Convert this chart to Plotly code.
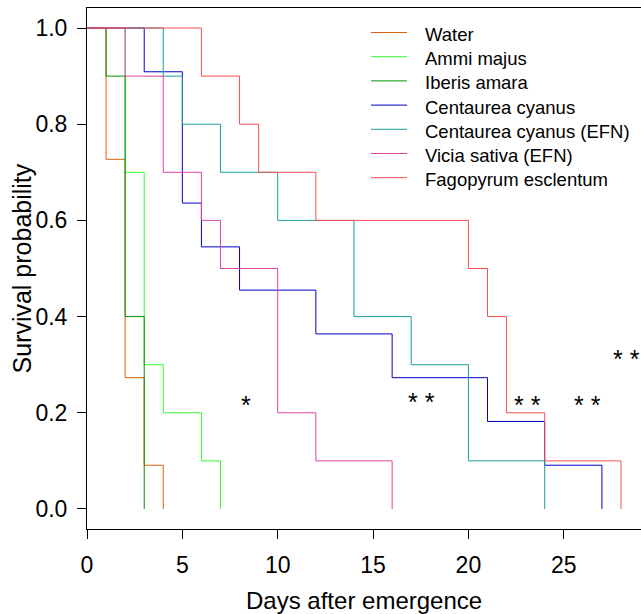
import plotly.graph_objects as go

# ---- data (Kaplan-Meier step curves) ----
groups = ["Water", "Ammi majus", "Iberis amara", "Centaurea cyanus",
          "Centaurea cyanus (EFN)", "Vicia sativa (EFN)", "Fagopyrum esclentum"]
colors = ["#E0600F", "#33FF33", "#009000", "#0000C8",
          "#1E9E9E", "#E0409F", "#FF4D4D"]

water_t = [0, 1, 2, 3, 4]
water_s = [1.0, 0.727, 0.273, 0.091, 0.0]
ammi_t = [0, 2, 3, 4, 6, 7]
ammi_s = [1.0, 0.7, 0.3, 0.2, 0.1, 0.0]
iberis_t = [0, 1, 2, 3]
iberis_s = [1.0, 0.9, 0.4, 0.0]
cyanus_t = [0, 3, 5, 6, 8, 12, 16, 21, 24, 27]
cyanus_s = [1.0, 0.909, 0.636, 0.545, 0.455, 0.364, 0.273, 0.182, 0.091, 0.0]
cyanus_efn_t = [0, 4, 5, 7, 10, 14, 17, 20, 24]
cyanus_efn_s = [1.0, 0.9, 0.8, 0.7, 0.6, 0.4, 0.3, 0.1, 0.0]
vicia_t = [0, 2, 4, 6, 7, 10, 12, 16]
vicia_s = [1.0, 0.9, 0.7, 0.6, 0.5, 0.2, 0.1, 0.0]
fago_t = [0, 6, 8, 9, 12, 20, 21, 22, 24, 28]
fago_s = [1.0, 0.9, 0.8, 0.7, 0.6, 0.5, 0.4, 0.2, 0.1, 0.0]

times = [water_t, ammi_t, iberis_t, cyanus_t, cyanus_efn_t, vicia_t, fago_t]
survs = [water_s, ammi_s, iberis_s, cyanus_s, cyanus_efn_s, vicia_s, fago_s]

# significance marks
star_x = [8.36, 17.53, 23.12, 26.27, 28.3]
star_y = [0.217, 0.222, 0.217, 0.217, 0.312]
star_text = ["*", "* *", "* *", "* *", "* *"]

xticks = [0, 5, 10, 15, 20, 25]
yticks = [0.0, 0.2, 0.4, 0.6, 0.8, 1.0]

FONT = "Arial, 'Liberation Sans', sans-serif"

# layout geometry (pixels)
W, H = 641, 614
ML, MR, MT, MB = 87, 0, 8, 85
PW, PH = W - ML - MR, H - MT - MB


def px_x(p):
    return (p - ML) / PW


def px_y(p):
    return (H - MB - p) / PH


fig = go.Figure()
for name, col, t, s in zip(groups, colors, times, survs):
    fig.add_trace(go.Scatter(x=t, y=s, mode="lines", name=name,
                             line=dict(color=col, width=1, shape="hv")))

for sx, sy, st in zip(star_x, star_y, star_text):
    fig.add_annotation(x=sx, y=sy, text=st, showarrow=False,
                       font=dict(size=25, color="black", family=FONT),
                       xanchor="center", yanchor="middle")

# legend drawn as keys + labels
leg_y0, leg_dy = 32.5, 24.2
for i, (name, col) in enumerate(zip(groups, colors)):
    yy = leg_y0 + i * leg_dy
    fig.add_shape(type="line", xref="paper", yref="paper",
                  x0=px_x(371), x1=px_x(407), y0=px_y(yy), y1=px_y(yy),
                  line=dict(color=col, width=1))
    fig.add_annotation(xref="paper", yref="paper", x=px_x(423), y=px_y(yy + 2),
                       text=name, showarrow=False, xanchor="left", yanchor="middle",
                       font=dict(size=18.5, color="black", family=FONT))

# axis titles
fig.add_annotation(xref="paper", yref="paper", x=0.5, y=0, yshift=-71,
                   text="Days after emergence", showarrow=False,
                   font=dict(size=24, color="black", family=FONT),
                   xanchor="center", yanchor="middle")
fig.add_annotation(xref="paper", yref="paper", x=0, y=0.5, xshift=-66,
                   text="Survival probability", showarrow=False, textangle=-90,
                   font=dict(size=25, color="black", family=FONT),
                   xanchor="center", yanchor="middle")

fig.update_layout(
    width=W, height=H,
    margin=dict(l=ML, r=MR, t=MT, b=MB),
    paper_bgcolor="white", plot_bgcolor="white",
    font=dict(family=FONT, color="black"),
    showlegend=False,
    xaxis=dict(range=[0, 29.05], tickvals=xticks, ticks="outside", ticklen=9,
               tickcolor="black", showline=True, linecolor="black", linewidth=1,
               mirror=True, showgrid=False, zeroline=False,
               tickfont=dict(size=23, family=FONT, color="black"),
               ticklabelstandoff=6),
    yaxis=dict(range=[-0.0416, 1.0416], tickvals=yticks, tickformat=".1f",
               ticks="outside", ticklen=9, tickcolor="black",
               showline=True, linecolor="black", linewidth=1,
               showgrid=False, zeroline=False,
               tickfont=dict(size=23, family=FONT, color="black"),
               ticklabelstandoff=5),
)

fig.write_html("out.html", config={"displayModeBar": False},
               post_script="document.body.style.margin='0px';")
